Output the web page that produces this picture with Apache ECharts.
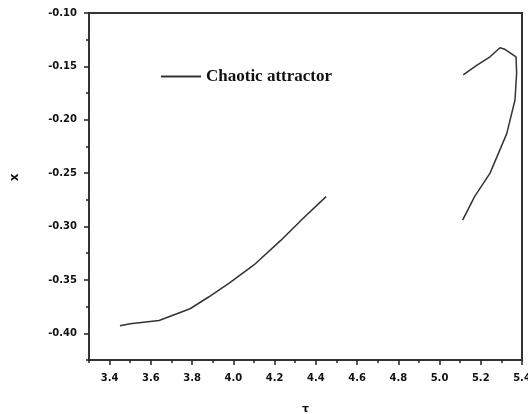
<!DOCTYPE html>
<html>
<head>
<meta charset="utf-8">
<script src="https://cdn.jsdelivr.net/npm/echarts@6/dist/echarts.min.js"></script>
<style>
  html, body { margin: 0; padding: 0; background: #fff; }
  #chart { width: 528px; height: 414px; }
</style>
</head>
<body>
<div id="chart"></div>
<script>
// lower branch of the attractor
const tauA = [3.45, 3.50, 3.64, 3.79, 3.88, 3.98, 4.10, 4.23, 4.34, 4.45]
const xA = [-0.393, -0.391, -0.388, -0.377, -0.366, -0.353, -0.336, -0.313, -0.292, -0.272]
// upper (folded) branch
const tauB = [5.115, 5.18, 5.245, 5.293, 5.317, 5.371, 5.374, 5.366, 5.326, 5.245, 5.17, 5.112]
const xB = [-0.158, -0.149, -0.141, -0.1325, -0.134, -0.141, -0.1565, -0.1815, -0.213, -0.250, -0.272, -0.294]

const xTicks = [3.4, 3.6, 3.8, 4.0, 4.2, 4.4, 4.6, 4.8, 5.0, 5.2, 5.4]
const yTicks = [-0.40, -0.35, -0.30, -0.25, -0.20, -0.15, -0.10]

const labelFont = { color: '#111', fontFamily: 'DejaVu Sans', fontWeight: 'bold', fontSize: 10 }

const lineData = tauA.map((t, i) => [t, xA[i]])
  .concat([[null, null]])
  .concat(tauB.map((t, i) => [t, xB[i]]))

const chart = echarts.init(document.getElementById('chart'))

chart.setOption({
  animation: false,
  grid: {
    left: 89, top: 13, right: 6, bottom: 54,
    containLabel: false, outerBoundsMode: 'none',
    show: true, borderColor: '#333', borderWidth: 2
  },
  legend: {
    left: 156, top: 63,
    itemWidth: 40, itemHeight: 2, itemGap: 8,
    icon: 'rect',
    textStyle: { fontFamily: 'Liberation Serif', fontWeight: 'bold', fontSize: 17, color: '#111' },
    data: ['Chaotic attractor']
  },
  xAxis: [{
    type: 'value', min: 3.3, max: 5.4, interval: 0.1,
    name: 'τ', nameLocation: 'middle', nameGap: 44,
    nameTextStyle: { fontFamily: 'DejaVu Sans', fontWeight: 'bold', fontSize: 11, color: '#111' },
    axisLine: { show: true, lineStyle: { color: '#333', width: 2 } },
    axisTick: { show: true, length: 5, customValues: xTicks, lineStyle: { color: '#222', width: 1.5 } },
    axisLabel: { ...labelFont, margin: 13, customValues: xTicks, formatter: v => v.toFixed(1) },
    splitLine: { show: false }
  }, {
    type: 'value', min: 3.3, max: 5.4, interval: 0.1, position: 'bottom',
    axisLine: { show: false },
    axisTick: { show: true, length: 3, lineStyle: { color: '#222', width: 1.5 } },
    axisLabel: { show: false },
    splitLine: { show: false }
  }],
  yAxis: [{
    type: 'value', min: -0.425, max: -0.1, interval: 0.025,
    name: 'x', nameLocation: 'middle', nameGap: 68, nameRotate: 90,
    nameTextStyle: { fontFamily: 'DejaVu Sans', fontWeight: 'bold', fontSize: 12, color: '#111', padding: [0, 0, 0, 18] },
    axisLine: { show: true, lineStyle: { color: '#333', width: 2 } },
    axisTick: { show: true, length: 5, customValues: yTicks, lineStyle: { color: '#222', width: 1.5 } },
    axisLabel: { ...labelFont, margin: 12, customValues: yTicks, formatter: v => v.toFixed(2) },
    splitLine: { show: false }
  }, {
    type: 'value', min: -0.425, max: -0.1, interval: 0.025, position: 'left',
    axisLine: { show: false },
    axisTick: { show: true, length: 3, lineStyle: { color: '#222', width: 1.5 } },
    axisLabel: { show: false },
    splitLine: { show: false }
  }],
  series: [{
    name: 'Chaotic attractor',
    type: 'line',
    data: lineData,
    symbol: 'none',
    connectNulls: false,
    lineStyle: { color: '#333', width: 1.5 },
    itemStyle: { color: '#333' }
  }]
})
</script>
</body>
</html>
